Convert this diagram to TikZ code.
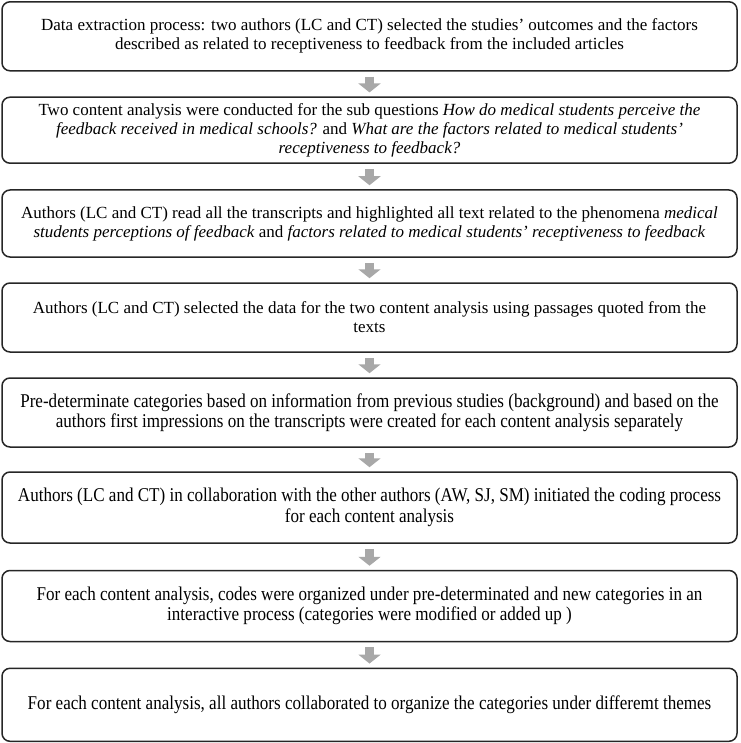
\documentclass[tikz,border=0pt]{standalone}
\usepackage{fontspec}
\setmainfont{Liberation Serif}
\newfontfamily\narrowserif[FakeStretch=0.875]{Liberation Serif}
\usetikzlibrary{arrows.meta,calc}
\definecolor{arrowgray}{HTML}{A8A8A8}
\begin{document}
\begin{tikzpicture}[x=1pt,y=-1pt,
  stepbox/.style={draw=black!85, line width=1.5pt, rounded corners=8pt,
    minimum width=735pt, align=center, inner sep=0pt,
    font=\fontsize{17}{19}\selectfont},
  narrowbox/.style={stepbox, font=\narrowserif\fontsize{19.5}{20.5}\selectfont},
  flow/.style={arrowgray, line width=9pt, shorten <=5pt, shorten >=4pt,
    -{Triangle[width=22pt,length=9pt]}}]
\useasboundingbox (0,0) rectangle (740,743);
\node[stepbox, minimum height=69pt] (b1) at (369.5,36.3)
  {Data extraction process: two authors (LC and CT) selected the studies' outcomes and the factors\\
   described as related to receptiveness to feedback from the included articles};
\node[stepbox, minimum height=66pt] (b2) at (369.5,130.2)
  {Two content analysis were conducted for the sub questions \emph{How do medical students perceive the}\\
   \emph{feedback received in medical schools?} and \emph{What are the factors related to medical students'}\\
   \emph{receptiveness to feedback?}};
\node[stepbox, minimum height=67pt] (b3) at (369.5,223.5)
  {Authors (LC and CT) read all the transcripts and highlighted all text related to the phenomena \emph{medical}\\
   \emph{students perceptions of feedback} and \emph{factors related to medical students' receptiveness to feedback}};
\node[stepbox, minimum height=69pt] (b4) at (369.5,317.5)
  {Authors (LC and CT) selected the data for the two content analysis using passages quoted from the\\
   texts};
\node[narrowbox, minimum height=69pt] (b5) at (369.5,412.5)
  {Pre-determinate categories based on information from previous studies (background) and based on the\\
   authors first impressions on the transcripts were created for each content analysis separately};
\node[narrowbox, minimum height=71pt] (b6) at (369.5,507.5)
  {Authors (LC and CT) in collaboration with the other authors (AW, SJ, SM) initiated the coding process\\
   for each content analysis};
\node[narrowbox, minimum height=71pt] (b7) at (369.5,606)
  {For each content analysis, codes were organized under pre-determinated and new categories in an\\
   interactive process (categories were modified or added up )};
\node[narrowbox, minimum height=73pt] (b8) at (369.5,704.8)
  {For each content analysis, all authors collaborated to organize the categories under differemt themes};
\foreach \a/\b in {b1/b2,b2/b3,b3/b4,b4/b5,b5/b6,b6/b7,b7/b8}
  \draw[flow] (\a) -- (\b);
\end{tikzpicture}
\end{document}
